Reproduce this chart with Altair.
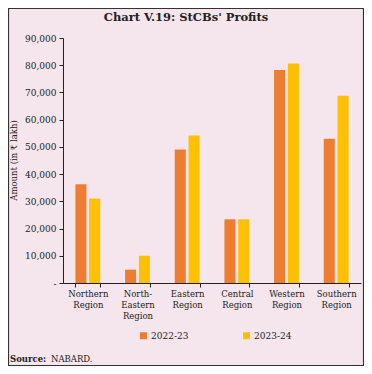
import altair as alt
import pandas as pd

regions = ["Northern Region", "North-Eastern Region", "Eastern Region",
           "Central Region", "Western Region", "Southern Region"]
years = ["2022-23", "2023-24"]
profits_2022_23 = [36300, 4900, 49000, 23400, 78200, 53000]
profits_2023_24 = [31000, 10000, 54200, 23400, 80600, 68800]
y_ticks = [0, 10000, 20000, 30000, 40000, 50000, 60000, 70000, 80000, 90000]
title_text = "Chart V.19: StCBs' Profits"
y_title = "Amount (in \u20b9 lakh)"
source_label = "Source:"
source_text = "NABARD."
colors = ["#ED7D31", "#FFC000"]

rows = []
for r, a, b in zip(regions, profits_2022_23, profits_2023_24):
    rows.append({"region": r, "year": years[0], "value": a})
    rows.append({"region": r, "year": years[1], "value": b})
df = pd.DataFrame(rows)

FONT = "DejaVu Serif"
INK = "#222222"
W, H = 298, 245

bars = alt.Chart(df).mark_bar().encode(
    x=alt.X("region:N", sort=regions,
            scale=alt.Scale(paddingInner=0.5, paddingOuter=0.25),
            axis=alt.Axis(title=None, labelAngle=0, tickBand="extent",
                          labelExpr="datum.label == 'North-Eastern Region' ? ['North-', 'Eastern', 'Region'] : split(datum.label, ' ')",
                          labelFont=FONT, labelFontSize=8.5, labelColor=INK,
                          labelLineHeight=11, labelPadding=2, labelBaseline="top",
                          tickSize=4, tickColor=INK, domainColor=INK)),
    xOffset=alt.XOffset("year:N", sort=years,
                        scale=alt.Scale(paddingInner=0.2, paddingOuter=0)),
    y=alt.Y("value:Q", scale=alt.Scale(domain=[0, 90000], nice=False),
            axis=alt.Axis(values=y_ticks, grid=False,
                          labelExpr="datum.value == 0 ? '-' : format(datum.value, ',')",
                          labelFont=FONT, labelFontSize=9, labelColor=INK, labelPadding=3,
                          tickSize=4, tickColor=INK, domainColor=INK,
                          title=y_title, titleFont=FONT, titleFontSize=8.5,
                          titleFontWeight="normal", titleColor=INK,
                          titleX=-45, titleY=122, titleAngle=270)),
    color=alt.Color("year:N", sort=years,
                    scale=alt.Scale(domain=years, range=colors),
                    legend=alt.Legend(title=None, orient="none", legendX=76, legendY=293,
                                      direction="horizontal", symbolType="square",
                                      symbolSize=49, symbolStrokeWidth=0,
                                      columnPadding=53, labelOffset=3,
                                      labelFont=FONT, labelFontSize=9, labelColor=INK,
                                      padding=0)),
)

one = alt.Data(values=[{}])

title = alt.Chart(one).mark_text(
    text=title_text, font=FONT, fontSize=11.5, fontWeight="bold", color=INK,
    align="center", baseline="alphabetic"
).encode(x=alt.value(123), y=alt.value(-17))

src1 = alt.Chart(one).mark_text(
    text=source_label, font=FONT, fontSize=8.5, fontWeight="bold", color=INK,
    align="left", baseline="alphabetic"
).encode(x=alt.value(-53), y=alt.value(324))

src2 = alt.Chart(one).mark_text(
    text=source_text, font=FONT, fontSize=8.5, color=INK,
    align="left", baseline="alphabetic"
).encode(x=alt.value(-12), y=alt.value(324))

border = alt.Chart(one).mark_rect(
    fillOpacity=0, stroke="#333333", strokeWidth=1.2
).encode(x=alt.value(-54.5), x2=alt.value(300.5), y=alt.value(-29.5), y2=alt.value(327.5))

chart = alt.layer(bars, title, src1, src2, border).properties(
    width=W, height=H,
    autosize=alt.AutoSizeParams(type="none"),
    padding={"left": 55, "top": 30, "right": 3, "bottom": 83},
    background="#F4E6EC",
).configure_view(stroke=None)

chart.save("out.html", embed_options={"renderer": "svg", "actions": False})
